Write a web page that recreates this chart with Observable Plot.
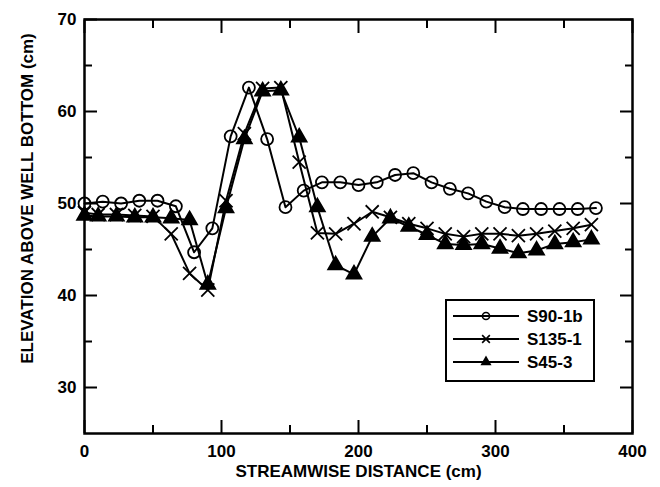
<!DOCTYPE html>
<html><head><meta charset="utf-8">
<script src="https://cdn.jsdelivr.net/npm/d3@7"></script>
<script src="https://cdn.jsdelivr.net/npm/@observablehq/plot@0.6"></script>
<style>body{margin:0;background:#fff} #chart{width:660px;height:487px}</style>
</head><body><div id="chart"></div>
<script>
const seriesNames = ["S90-1b", "S135-1", "S45-3"];
const s90x = [0,13.3,26.7,40,53.3,66.7,80,93.3,106.7,120,133.3,146.7,160,173.3,186.7,200,213.3,226.7,240,253.3,266.7,280,293.3,306.7,320,333.3,346.7,360,373.3];
const s90y = [50.0,50.2,50.0,50.3,50.3,49.7,44.7,47.3,57.3,62.6,57.0,49.6,51.4,52.3,52.3,52.0,52.3,53.1,53.3,52.3,51.6,51.1,50.2,49.6,49.4,49.4,49.4,49.4,49.5];
const s135x = [0,10,23.3,36.7,50,63.3,76.7,90,103.3,116.7,130,143.3,156.7,170,183.3,196.7,210,223.3,236.7,250,263.3,276.7,290,303.3,316.7,330,343.3,356.7,370];
const s135y = [49.0,48.8,48.8,48.7,48.6,46.7,42.4,40.6,50.3,57.6,62.5,62.6,54.5,46.8,46.7,47.8,49.1,48.5,47.8,47.3,46.7,46.4,46.7,46.7,46.5,46.7,47.0,47.3,47.7];
const s45x = [0,10,23.3,36.7,50,63.3,76.7,90,103.3,116.7,130,143.3,156.7,170,183.3,196.7,210,223.3,236.7,250,263.3,276.7,290,303.3,316.7,330,343.3,356.7,370];
const s45y = [48.7,48.6,48.6,48.5,48.5,48.4,48.2,41.2,49.5,57.0,62.2,62.3,57.2,49.6,43.3,42.3,46.4,48.4,47.5,46.6,45.6,45.5,45.6,45.1,44.6,44.9,45.6,45.8,46.1];
const xMajor = [0, 100, 200, 300, 400];
const xMinor = [50, 150, 250, 350];
const yMajor = [30, 40, 50, 60, 70];
const yMinor = [35, 45, 55, 65];
const xTitle = "STREAMWISE DISTANCE (cm)";
const yTitle = "ELEVATION ABOVE WELL BOTTOM (cm)";

const symbolOf = {"S90-1b": "circle", "S135-1": "times", "S45-3": "triangle"};
const fillOf = {"S90-1b": "none", "S135-1": "none", "S45-3": "black"};
const rOf = {"S90-1b": 6, "S135-1": 6, "S45-3": 5.5};

const rows = [];
[[s90x, s90y], [s135x, s135y], [s45x, s45y]].forEach(([xs, ys], i) => {
  xs.forEach((x, j) => rows.push({series: seriesNames[i], x, y: ys[j]}));
});

const font = "'Liberation Sans', Arial, Helvetica, sans-serif";
const dotMarks = seriesNames.map(name => Plot.dot(rows.filter(d => d.series === name), {
  x: "x", y: "y", symbol: symbolOf[name], r: rOf[name],
  stroke: "black", strokeWidth: 1.8, fill: fillOf[name]
}));

const plot = Plot.plot({
  width: 660, height: 487,
  marginLeft: 84, marginRight: 28, marginTop: 19, marginBottom: 54,
  x: {domain: [0, 400]},
  y: {domain: [25, 70]},
  style: {fontFamily: font, fontSize: "17px", color: "black", background: "white"},
  marks: [
    Plot.line(rows, {x: "x", y: "y", z: "series", stroke: "black", strokeWidth: 2}),
    ...dotMarks,
    Plot.axisX({anchor: "bottom", ticks: xMajor, tickSize: -13, fill: "none", label: null, strokeWidth: 2}),
    Plot.axisX({anchor: "bottom", ticks: xMinor, tickSize: -8, fill: "none", label: null, strokeWidth: 2}),
    Plot.axisX({anchor: "top", ticks: xMajor, tickSize: -13, fill: "none", label: null, strokeWidth: 2}),
    Plot.axisX({anchor: "top", ticks: xMinor, tickSize: -8, fill: "none", label: null, strokeWidth: 2}),
    Plot.axisY({anchor: "left", ticks: yMajor, tickSize: -13, fill: "none", label: null, strokeWidth: 2}),
    Plot.axisY({anchor: "left", ticks: yMinor, tickSize: -8, fill: "none", label: null, strokeWidth: 2}),
    Plot.axisY({anchor: "right", ticks: yMajor, tickSize: -13, fill: "none", label: null, strokeWidth: 2}),
    Plot.axisY({anchor: "right", ticks: yMinor, tickSize: -8, fill: "none", label: null, strokeWidth: 2}),
    Plot.axisX({anchor: "bottom", ticks: xMajor, tickSize: 0, tickPadding: 11, label: null, fontWeight: "bold", fontSize: 17}),
    Plot.axisY({anchor: "left", ticks: yMajor, tickSize: 0, tickPadding: 8, label: null, fontWeight: "bold", fontSize: 17}),
    Plot.text([xTitle], {text: d => d, frameAnchor: "bottom", dy: 43, fontSize: 17, fontWeight: "bold"}),
    Plot.text([yTitle], {text: d => d, frameAnchor: "left", textAnchor: "middle", rotate: -90, dx: -57, dy: -28, fontSize: 17, fontWeight: "bold"}),
    Plot.frame({stroke: "black", strokeWidth: 2.5})
  ]
});

// legend inside the plot
const svg = d3.select(plot);
const lg = svg.append("g").attr("transform", "translate(446,300)").attr("font-family", font);
lg.append("rect").attr("width", 148).attr("height", 81).attr("fill", "white").attr("stroke", "black").attr("stroke-width", 2);
const d3sym = {"circle": d3.symbolCircle, "times": d3.symbolTimes, "triangle": d3.symbolTriangle};
seriesNames.forEach((name, i) => {
  const yy = 16 + i * 23;
  lg.append("line").attr("x1", 7).attr("x2", 73).attr("y1", yy).attr("y2", yy).attr("stroke", "black").attr("stroke-width", 2);
  lg.append("path").attr("transform", `translate(40,${yy})`)
    .attr("d", d3.symbol(d3sym[symbolOf[name]], name === "S45-3" ? 30 : 40)())
    .attr("fill", fillOf[name] === "none" ? "none" : "black").attr("stroke", "black").attr("stroke-width", 1.6);
  lg.append("text").attr("x", 81).attr("y", yy).attr("dy", "0.35em").attr("text-anchor", "start")
    .attr("font-size", 17).attr("font-weight", "bold").attr("fill", "black").text(name);
});

document.getElementById("chart").append(plot);
</script>
</body></html>
